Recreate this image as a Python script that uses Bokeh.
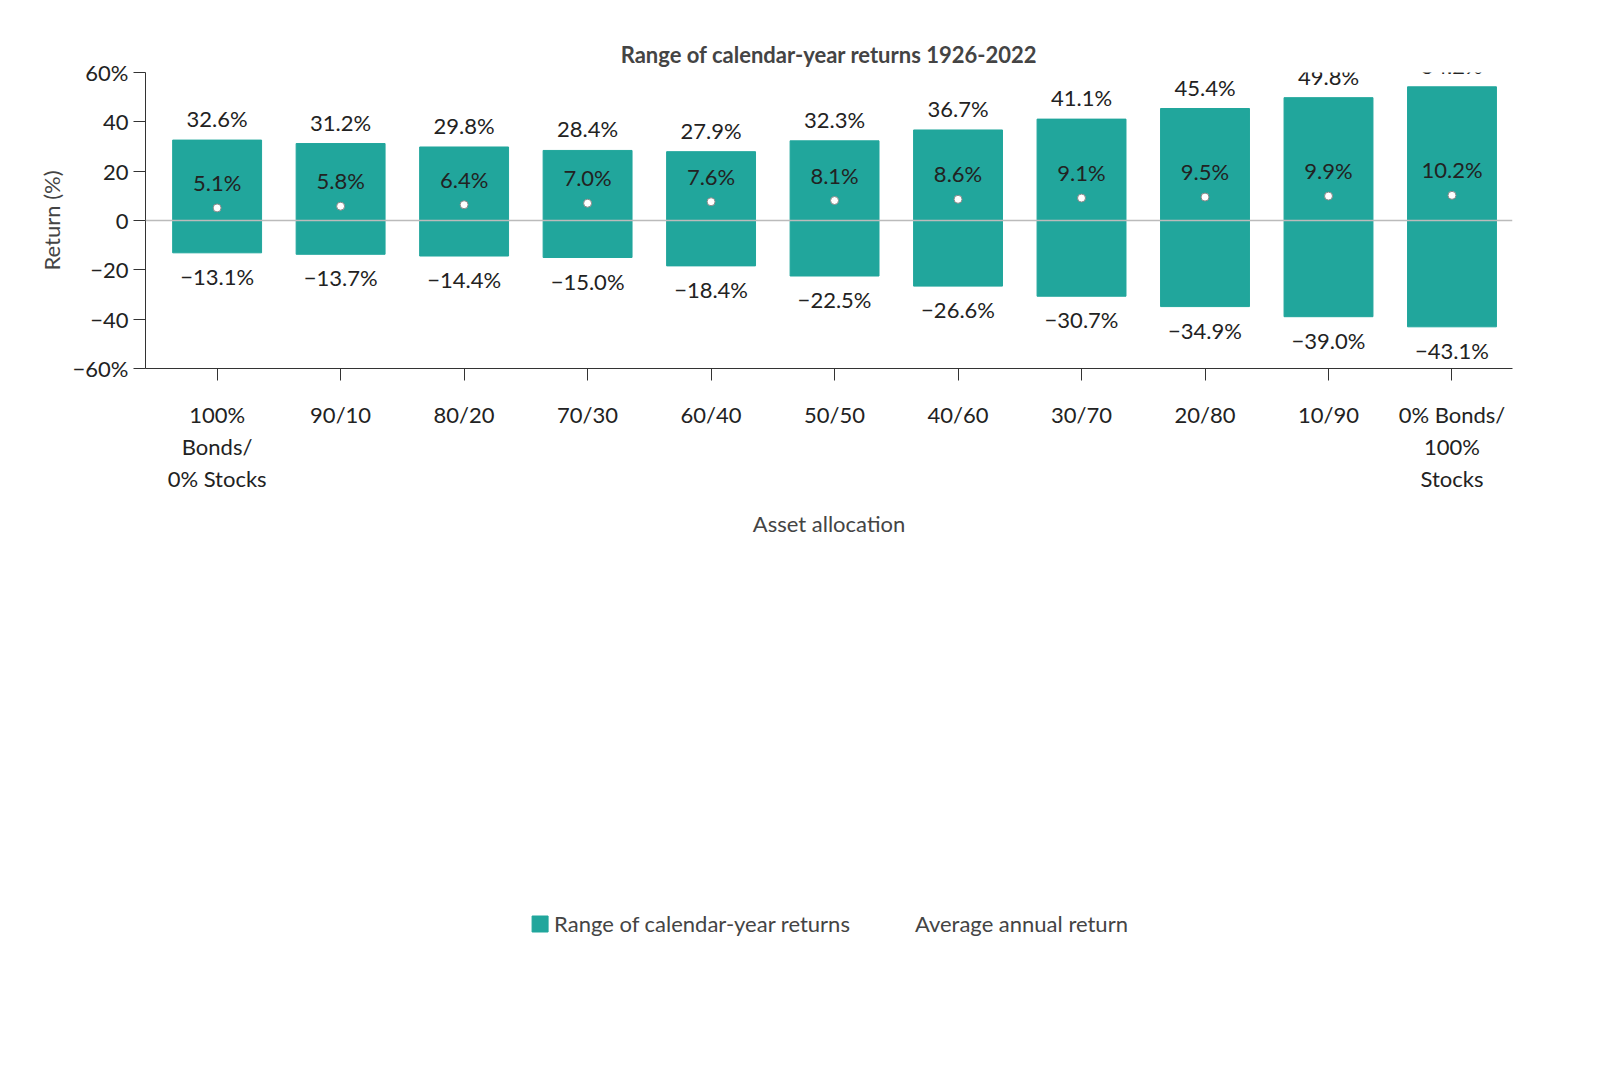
from bokeh.plotting import figure
from bokeh.models import ColumnDataSource, Legend, LegendItem, CustomJSTickFormatter, FixedTicker, Span, Range1d
from bokeh.core.properties import value
from bokeh.embed import file_html
from bokeh.resources import INLINE

cats = ["100%\nBonds/\n0% Stocks", "90/10", "80/20", "70/30", "60/40", "50/50", "40/60", "30/70", "20/80", "10/90", "0% Bonds/\n100%\nStocks"]
highs = [32.6, 31.2, 29.8, 28.4, 27.9, 32.3, 36.7, 41.1, 45.4, 49.8, 54.2]
lows = [-13.1, -13.7, -14.4, -15.0, -18.4, -22.5, -26.6, -30.7, -34.9, -39.0, -43.1]
means = [5.1, 5.8, 6.4, 7.0, 7.6, 8.1, 8.6, 9.1, 9.5, 9.9, 10.2]

FONT = "Lato"
TEAL = "#21A69C"
fmt = lambda v: f"{v:.1f}%".replace("-", "\u2212")
xs = list(range(len(cats)))
src = ColumnDataSource(dict(x=xs, hi=highs, lo=lows, m=means,
                            hl=[fmt(v) for v in highs], ll=[fmt(v) for v in lows], ml=[fmt(v) for v in means]))

p = figure(width=1540, height=1060, output_backend="svg", toolbar_location=None,
           x_range=Range1d(-0.58, 10.49), y_range=Range1d(-60, 60),
           min_border_left=145, min_border_right=28, min_border_top=72, min_border_bottom=0)
p.title.text = "Range of calendar-year returns 1926-2022"
p.title.align = "center"
p.title.text_font = FONT
p.title.text_font_size = "22px"
p.title.text_font_style = "bold"
p.grid.visible = False
p.outline_line_color = None

bars = p.vbar(x="x", top="hi", bottom="lo", width=0.72, color=TEAL, source=src)
p.add_layout(Span(location=0, dimension="width", line_color="#bbbbbb", line_width=1.5))
p.scatter(x="x", y="m", size=8, fill_color="white", line_color="#888888", line_width=1, source=src)
leg_dot = p.scatter(x=[], y=[], size=18, fill_color="white", line_color=TEAL, line_width=1.5)
for col, y, base, dy in [("hl", "hi", "bottom", 8), ("ll", "lo", "top", -10), ("ml", "m", "bottom", 12)]:
    p.text(x="x", y=y, text=col, source=src, text_align="center", text_baseline=base, y_offset=-dy,
           text_font=value(FONT), text_font_size="22px", text_color="#222222")

p.yaxis.ticker = FixedTicker(ticks=[-60, -40, -20, 0, 20, 40, 60])
p.yaxis.formatter = CustomJSTickFormatter(code="""
var s = Math.abs(tick) == 60 ? Math.abs(tick) + '%' : '' + Math.abs(tick);
return tick < 0 ? '\u2212' + s : s;""")
p.yaxis.axis_label = "Return (%)"
p.xaxis.ticker = FixedTicker(ticks=xs)
p.xaxis.major_label_overrides = {i: c for i, c in enumerate(cats)}
p.xaxis.axis_label = "Asset allocation"
for ax in (p.xaxis, p.yaxis):
    ax.axis_label_text_font = FONT
    ax.axis_label_text_font_size = "22px"
    ax.axis_label_text_font_style = "normal"
    ax.major_label_text_font = FONT
    ax.major_label_text_font_size = "22px"
    ax.major_label_text_color = "#222222"
    ax.axis_line_color = "#333333"
    ax.major_tick_line_color = "#333333"
    ax.minor_tick_line_color = None
    ax.major_tick_in = 0
    ax.major_tick_out = 12
p.xaxis.major_label_standoff = 20
p.xaxis.axis_label_standoff = 15

leg = Legend(items=[LegendItem(label="Range of calendar-year returns", renderers=[bars]),
                    LegendItem(label="Average annual return", renderers=[leg_dot])],
             orientation="horizontal", location="center", border_line_color=None,
             label_text_font=FONT, label_text_font_size="22px", spacing=40, margin=10, padding=5)
p.add_layout(leg, "below")

open("out.html", "w").write(file_html(p, INLINE))
